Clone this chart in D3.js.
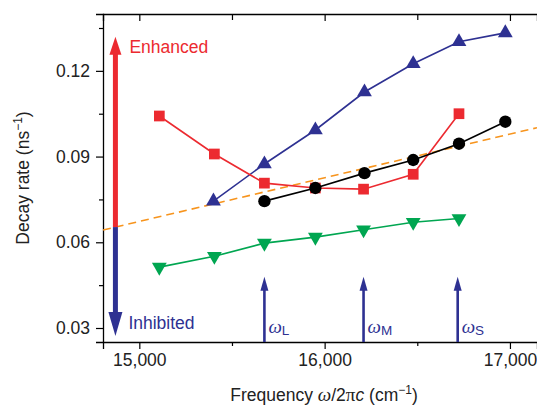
<!DOCTYPE html>
<html><head><meta charset="utf-8">
<script src="https://cdn.jsdelivr.net/npm/d3@7"></script>
<style>
html,body{margin:0;padding:0;background:#fff;}
svg text{font-family:"Liberation Sans",Arial,Helvetica,sans-serif;}
</style></head>
<body>
<svg id="chart" width="537" height="408"></svg>
<script>
// ---- data ----
const blueFreq  = [15400, 15675, 15950, 16215, 16478, 16725, 16975];
const blueRate  = [0.0744, 0.0874, 0.0993, 0.1126, 0.1225, 0.1302, 0.1333];
const redFreq   = [15108, 15405, 15675, 15950, 16210, 16478, 16725];
const redRate   = [0.1042, 0.0909, 0.0807, 0.0790, 0.0786, 0.0838, 0.1050];
const blackFreq = [15675, 15950, 16215, 16478, 16725, 16975];
const blackRate = [0.0744, 0.0790, 0.0842, 0.0888, 0.0945, 0.1022];
const greenFreq = [15108, 15405, 15675, 15950, 16210, 16478, 16725];
const greenRate = [0.0513, 0.0551, 0.0597, 0.0618, 0.0644, 0.0670, 0.0683];
const refFreq   = [14804, 17146];
const refRate   = [0.0643, 0.1001];
const xTicks = [15000, 16000, 17000];
const xMinor = [15500, 16500];
const yTicks = [0.03, 0.06, 0.09, 0.12];
const yMinor = [0.045, 0.075, 0.105, 0.135];
const omegaFreq = [15675, 16210, 16718];
const omegaSub  = ["L", "M", "S"];
const omegaTip  = 0.0479;
const bigArrowFreq = 14871;
const bigArrowTop = 0.1319;
const bigArrowBottom = 0.0272;

// ---- layout ----
const svg = d3.select("#chart");
const L = 103, R = 537, T = 14, B = 342;
const x = d3.scaleLinear().domain([14804, 17146]).range([L, R]);
const y = d3.scaleLinear().domain([0.0251, 0.1399]).range([B, T]);
const RED = "#ec2a30", BLUE = "#2e3192", GREEN = "#00a651", ORANGE = "#f7941d";
const fmt = d3.format(",");

// axes
const axisG = svg.append("g");
const xb = d3.axisBottom(x).tickValues(xTicks).tickFormat(fmt).tickSizeOuter(0).tickSize(7).tickPadding(5);
const xbm = d3.axisBottom(x).tickValues(xMinor).tickFormat("").tickSizeOuter(0).tickSize(4);
const xt = d3.axisBottom(x).tickValues(xTicks).tickFormat("").tickSizeOuter(0).tickSize(7);
const xtm = d3.axisBottom(x).tickValues(xMinor).tickFormat("").tickSizeOuter(0).tickSize(6);
const yl = d3.axisLeft(y).tickValues(yTicks).tickFormat(d3.format(".2f")).tickSizeOuter(0).tickSize(7).tickPadding(6);
const ylm = d3.axisLeft(y).tickValues(yMinor).tickFormat("").tickSizeOuter(0).tickSize(4);

function style(g){
  g.selectAll(".domain").attr("stroke","#000").attr("stroke-width",1.3);
  g.selectAll(".tick line").attr("stroke","#000").attr("stroke-width",1.2);
  g.selectAll(".tick text").attr("fill","#222").style("font-size","17.5px").style("font-family","'Liberation Sans',Arial,sans-serif");
}
axisG.append("g").attr("transform",`translate(0,${B})`).call(xb).call(style);
axisG.append("g").attr("transform",`translate(0,${B})`).call(xbm).call(style).select(".domain").remove();
axisG.append("g").attr("transform",`translate(0,${T})`).call(xt).call(style);
axisG.append("g").attr("transform",`translate(0,${T})`).call(xtm).call(style).select(".domain").remove();
axisG.append("g").attr("transform",`translate(${L},0)`).call(yl).call(style);
axisG.append("g").attr("transform",`translate(${L},0)`).call(ylm).call(style).select(".domain").remove();

// reference dashed line
const clip = svg.append("clipPath").attr("id","pc").append("rect").attr("x",L).attr("y",T).attr("width",R-L).attr("height",B-T);
const line = d3.line().x(d=>x(d[0])).y(d=>y(d[1]));
svg.append("path").attr("clip-path","url(#pc)")
  .datum(d3.zip(refFreq, refRate)).attr("d", line)
  .attr("fill","none").attr("stroke",ORANGE).attr("stroke-width",1.6).attr("stroke-dasharray","8,5");

// big enhanced/inhibited arrow
const splitRate = refRate[0] + (refRate[1]-refRate[0])*(bigArrowFreq-refFreq[0])/(refFreq[1]-refFreq[0]);
const ax = x(bigArrowFreq);
svg.append("line").attr("x1",ax).attr("x2",ax).attr("y1",y(splitRate)).attr("y2",y(bigArrowTop)+15)
  .attr("stroke",RED).attr("stroke-width",5);
svg.append("path").attr("d",`M${ax},${y(bigArrowTop)} L${ax-6},${y(bigArrowTop)+18} L${ax+6},${y(bigArrowTop)+18}Z`).attr("fill",RED);
svg.append("line").attr("x1",ax).attr("x2",ax).attr("y1",y(splitRate)).attr("y2",y(bigArrowBottom)-20)
  .attr("stroke",BLUE).attr("stroke-width",5);
svg.append("path").attr("d",`M${ax},${y(bigArrowBottom)} L${ax-7},${y(bigArrowBottom)-24} L${ax+7},${y(bigArrowBottom)-24}Z`).attr("fill",BLUE);
svg.append("text").attr("x",ax+14).attr("y",y(bigArrowTop)+16).attr("fill",RED).style("font-size","17.5px").text("Enhanced");
svg.append("text").attr("x",ax+13).attr("y",y(bigArrowBottom)-7).attr("fill",BLUE).style("font-size","17.5px").text("Inhibited");

// omega arrows
omegaFreq.forEach((f,i)=>{
  const px = x(f);
  svg.append("line").attr("x1",px).attr("x2",px).attr("y1",B).attr("y2",y(omegaTip)+10)
    .attr("stroke",BLUE).attr("stroke-width",2.6);
  svg.append("path").attr("d",`M${px},${y(omegaTip)} L${px-4},${y(omegaTip)+14} L${px+4},${y(omegaTip)+14}Z`).attr("fill",BLUE);
  const t = svg.append("text").attr("x",px+4).attr("y",B-9).attr("fill",BLUE);
  t.append("tspan").style("font-family","'Liberation Serif','Times New Roman',serif").style("font-style","italic").style("font-size","19px").text("ω");
  t.append("tspan").attr("dy",2).style("font-size","13.5px").text(omegaSub[i]);
});

// series
function series(fr, rt, color, sym, size, rot){
  const data = d3.zip(fr, rt);
  svg.append("path").datum(data).attr("d",line).attr("fill","none").attr("stroke",color).attr("stroke-width",1.6);
  svg.append("g").selectAll("path").data(data).join("path")
    .attr("d", d3.symbol().type(sym).size(size))
    .attr("transform", d=>`translate(${x(d[0])},${y(d[1])}) rotate(${rot})`)
    .attr("fill", color);
}
series(greenFreq, greenRate, GREEN, d3.symbolTriangle, 95, 180);
series(blueFreq, blueRate, BLUE, d3.symbolTriangle, 95, 0);
series(redFreq, redRate, RED, d3.symbolSquare, 115, 0);
series(blackFreq, blackRate, "#000", d3.symbolCircle, 120, 0);

// axis titles
const yt = svg.append("text").attr("transform",`translate(29,178) rotate(-90)`).attr("text-anchor","middle").attr("fill","#222").style("font-size","17.5px");
yt.append("tspan").text("Decay rate (ns");
yt.append("tspan").attr("dy",-7).style("font-size","12px").text("−1");
yt.append("tspan").attr("dy",7).text(")");

const xtit = svg.append("text").attr("x",324).attr("y",401).attr("text-anchor","middle").attr("fill","#222").style("font-size","17.5px");
xtit.append("tspan").text("Frequency ");
xtit.append("tspan").style("font-family","'Liberation Serif','Times New Roman',serif").style("font-style","italic").style("font-size","19px").text("ω");
xtit.append("tspan").text("/2");
xtit.append("tspan").style("font-family","'Liberation Serif','Times New Roman',serif").style("font-size","19px").text("π");
xtit.append("tspan").style("font-style","italic").text("c");
xtit.append("tspan").text(" (cm");
xtit.append("tspan").attr("dy",-7).style("font-size","12px").text("−1");
xtit.append("tspan").attr("dy",7).text(")");
</script>
</body></html>
